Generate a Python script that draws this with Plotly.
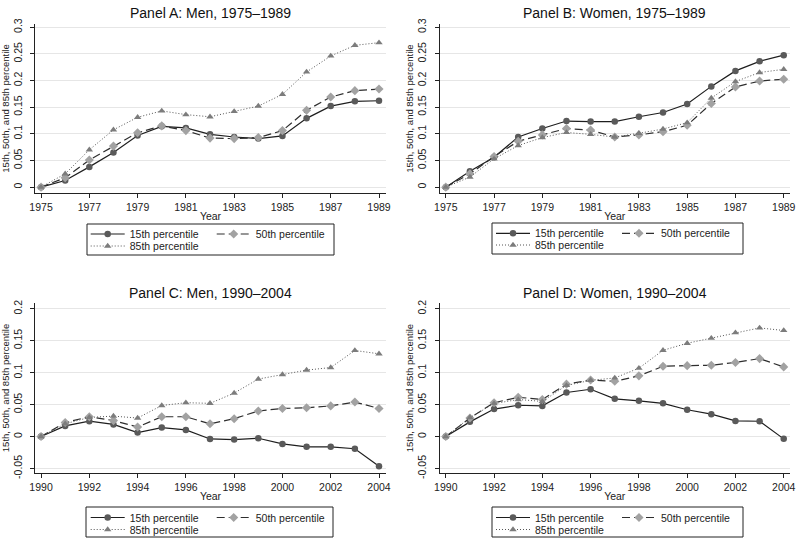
import plotly.graph_objects as go

W, H = 796, 539

years_7589 = list(range(1975, 1990))
years_9004 = list(range(1990, 2005))

a_p15 = [0, 0.0125, 0.038, 0.065, 0.097, 0.114, 0.111, 0.099, 0.094, 0.091, 0.096, 0.129, 0.152, 0.161, 0.162]
a_p50 = [0, 0.0175, 0.051, 0.077, 0.102, 0.115, 0.106, 0.092, 0.091, 0.093, 0.106, 0.144, 0.169, 0.181, 0.184]
a_p85 = [0, 0.025, 0.070, 0.1075, 0.131, 0.143, 0.136, 0.132, 0.142, 0.152, 0.174, 0.216, 0.246, 0.266, 0.271]

b_p15 = [0, 0.030, 0.056, 0.094, 0.110, 0.124, 0.123, 0.123, 0.132, 0.140, 0.156, 0.189, 0.218, 0.236, 0.2475]
b_p50 = [0, 0.025, 0.0575, 0.086, 0.098, 0.110, 0.107, 0.094, 0.098, 0.104, 0.116, 0.157, 0.188, 0.199, 0.2025]
b_p85 = [0, 0.019, 0.053, 0.078, 0.093, 0.1025, 0.099, 0.094, 0.101, 0.109, 0.121, 0.167, 0.198, 0.215, 0.221]

c_p15 = [0, 0.0167, 0.024, 0.019, 0.0063, 0.014, 0.0104, -0.0037, -0.0047, -0.0026, -0.0115, -0.016, -0.016, -0.019, -0.0465]
c_p50 = [0, 0.022, 0.031, 0.025, 0.015, 0.031, 0.031, 0.020, 0.028, 0.040, 0.044, 0.045, 0.048, 0.054, 0.044]
c_p85 = [0, 0.020, 0.030, 0.032, 0.029, 0.0486, 0.053, 0.052, 0.068, 0.090, 0.097, 0.104, 0.108, 0.1347, 0.1295]

d_p15 = [0, 0.023, 0.043, 0.049, 0.048, 0.069, 0.074, 0.059, 0.056, 0.052, 0.042, 0.035, 0.0245, 0.024, -0.0036]
d_p50 = [0, 0.029, 0.053, 0.0615, 0.058, 0.082, 0.0885, 0.0865, 0.095, 0.110, 0.111, 0.1115, 0.116, 0.122, 0.109]
d_p85 = [0, 0.0297, 0.0516, 0.058, 0.055, 0.080, 0.088, 0.0917, 0.107, 0.135, 0.146, 0.154, 0.1625, 0.170, 0.166]

panel_titles = ["Panel A: Men, 1975\u20131989", "Panel B: Women, 1975\u20131989",
                "Panel C: Men, 1990\u20132004", "Panel D: Women, 1990\u20132004"]
series_names = ["15th percentile", "50th percentile", "85th percentile"]
y_title = "15th, 50th, and 85th percentile"
x_title = "Year"

xticks_7589 = list(range(1975, 1990, 2))
xticks_9004 = list(range(1990, 2005, 2))
yticks_top = [0, 0.05, 0.1, 0.15, 0.2, 0.25, 0.3]
yticklabels_top = ["0", "0.05", "0.1", "0.15", "0.2", "0.25", "0.3"]
yticks_bot = [-0.05, 0, 0.05, 0.1, 0.15, 0.2]
yticklabels_bot = ["-0.05", "0", "0.05", "0.1", "0.15", "0.2"]

FONT = "Liberation Sans, Arial, Helvetica, sans-serif"

styles = [
    dict(line=dict(color="#1e1e1e", width=1.2, dash="solid"),
         marker=dict(symbol="circle", size=6.5, color="#5a5a5a")),
    dict(line=dict(color="#2e2e2e", width=1.2, dash="8px,4px"),
         marker=dict(symbol="diamond", size=7, color="#a2a2a2")),
    dict(line=dict(color="#555555", width=1.0, dash="1px,2px"),
         marker=dict(symbol="triangle-up", size=6.5, color="#7c7c7c")),
]

panels = [
    (years_7589, [a_p15, a_p50, a_p85]),
    (years_7589, [b_p15, b_p50, b_p85]),
    (years_9004, [c_p15, c_p50, c_p85]),
    (years_9004, [d_p15, d_p50, d_p85]),
]

# layout geometry (pixels)
col_x = [(35, 386), (439.5, 790)]
row_y = [(24, 193), (303, 473)]
xr = [[1974.75, 1989.29], [1974.74, 1989.26], [1989.75, 2004.29], [1989.74, 2004.26]]
yr = [[-0.011, 0.306], [-0.011, 0.306], [-0.057, 0.209], [-0.057, 0.209]]

fig = go.Figure()
layout = dict(width=W, height=H, autosize=False,
              margin=dict(l=0, r=0, t=0, b=0, pad=0, autoexpand=False),
              plot_bgcolor="white", paper_bgcolor="white",
              font=dict(family=FONT, color="#222222"), showlegend=True)

annotations = []
shapes = []
legend_boxes = [(87, 334, 224, 255), (492, 743, 223, 254), (86, 333, 507, 537), (492, 743, 507, 537)]
legend_line_start = [90.7, 496, 90.7, 496]
legend_rows = [(234, 246), (233.3, 245), (517.5, 529.5), (517.5, 529.5)]

for p in range(4):
    r, c = divmod(p, 2)
    sfx = "" if p == 0 else str(p + 1)
    years, series = panels[p]
    leg1 = "legend" if p == 0 else "legend%d" % (2 * p + 1)
    leg2 = "legend%d" % (2 * p + 2)
    for i, (name, vals) in enumerate(zip(series_names, series)):
        st = styles[i]
        fig.add_trace(go.Scatter(
            x=years, y=vals, mode="lines+markers", name=name,
            line=st["line"], marker=st["marker"],
            xaxis="x" + sfx, yaxis="y" + sfx,
            legend=leg1 if i < 2 else leg2, showlegend=True,
        ))
    x0, x1 = col_x[c]
    y0, y1 = row_y[r]
    top = (p < 2)
    layout["xaxis" + sfx] = dict(
        domain=[x0 / W, x1 / W], range=xr[p], anchor="y" + sfx, automargin=False,
        tickmode="array", tickvals=xticks_7589 if top else xticks_9004,
        ticks="outside", ticklen=4, tickcolor="#222", showline=True, linecolor="#222",
        linewidth=1, showgrid=False, zeroline=False, ticklabeloverflow="allow",
        tickfont=dict(size=10.5, family=FONT, color="#222"),
        title=dict(text=x_title, font=dict(size=10.5, family=FONT, color="#222"), standoff=1),
    )
    layout["yaxis" + sfx] = dict(
        domain=[1 - y1 / H, 1 - y0 / H], range=yr[p], anchor="x" + sfx, automargin=False,
        tickmode="array", tickvals=yticks_top if top else yticks_bot,
        ticktext=yticklabels_top if top else yticklabels_bot,
        tickangle=-90, ticks="outside", ticklen=4, tickcolor="#222",
        showline=True, linecolor="#222", linewidth=1, ticklabeloverflow="allow",
        ticklabelstandoff=4,
        showgrid=True, gridcolor="#e6e6e6", gridwidth=1, zeroline=False,
        tickfont=dict(size=10.5, family=FONT, color="#222"),
        title=dict(text=y_title, font=dict(size=9.5, family=FONT, color="#222"), standoff=0),
    )
    annotations.append(dict(
        text=panel_titles[p], xref="paper", yref="paper",
        x=(x0 + x1) / 2 / W, y=1 - (13 if top else 293) / H,
        xanchor="center", yanchor="middle", showarrow=False,
        font=dict(size=14, family=FONT, color="#111"),
    ))
    bx0, bx1, by0, by1 = legend_boxes[p]
    shapes.append(dict(type="rect", xref="paper", yref="paper",
                       x0=bx0 / W, x1=bx1 / W, y0=1 - by1 / H, y1=1 - by0 / H,
                       line=dict(color="#222", width=1), fillcolor="rgba(0,0,0,0)"))
    lx = (legend_line_start[p] - 5) / W
    ry1, ry2 = legend_rows[p]
    layout[leg1] = dict(orientation="h", x=lx, xanchor="left", y=1 - ry1 / H, yanchor="middle",
                        entrywidth=77, entrywidthmode="pixels", itemwidth=34,
                        bgcolor="rgba(0,0,0,0)",
                        borderwidth=0, font=dict(size=10.5, family=FONT, color="#222"),
                        itemclick=False, itemdoubleclick=False)
    layout[leg2] = dict(orientation="h", x=lx, xanchor="left", y=1 - ry2 / H, yanchor="middle",
                        itemwidth=34, bgcolor="rgba(0,0,0,0)", borderwidth=0,
                        font=dict(size=10.5, family=FONT, color="#222"),
                        itemclick=False, itemdoubleclick=False)

layout["annotations"] = annotations
layout["shapes"] = shapes
fig.update_layout(**layout)
fig.write_html("out.html", config={"displayModeBar": False},
               post_script="document.body.style.margin='0';document.body.style.overflow='hidden';")
